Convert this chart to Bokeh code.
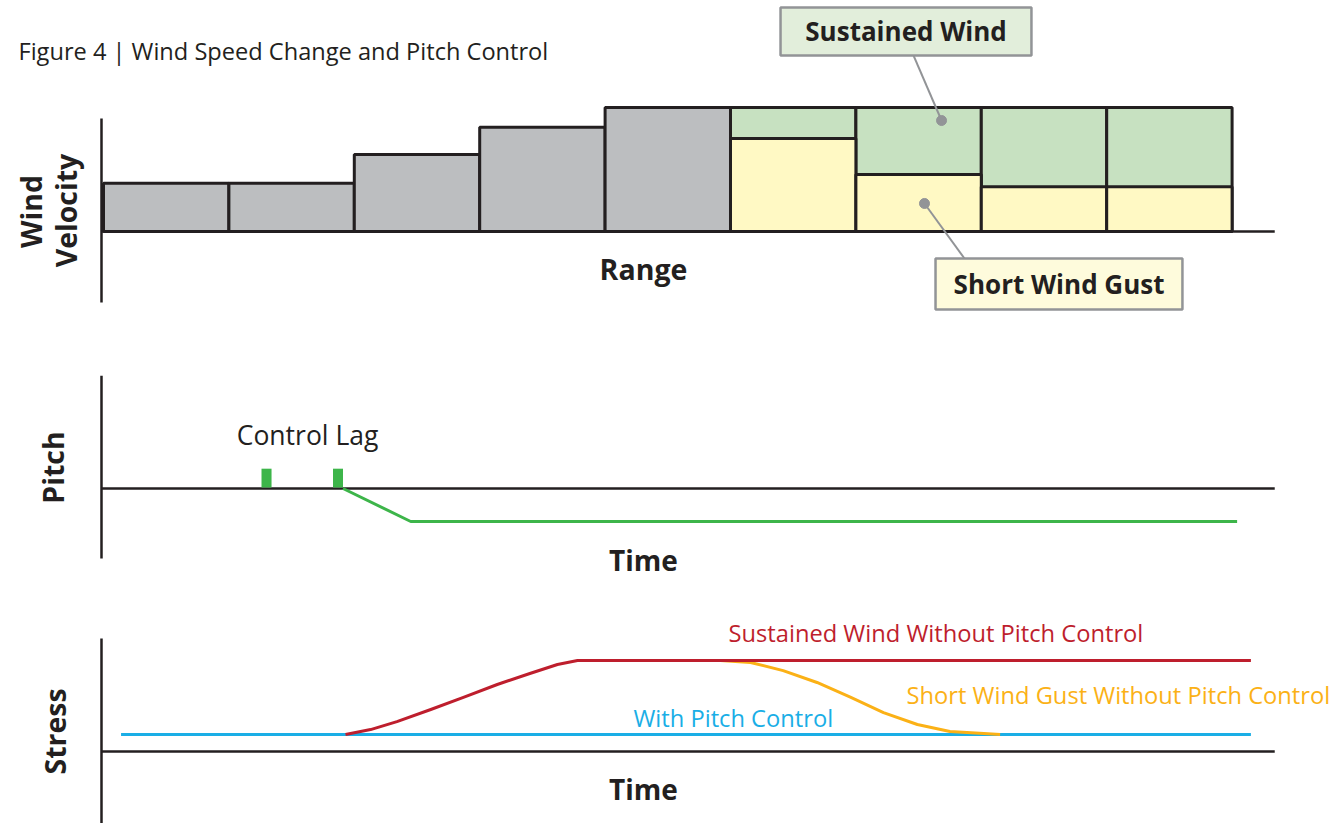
from bokeh.plotting import figure
from bokeh.models import Range1d, Label
from bokeh.embed import file_html
from bokeh.resources import INLINE
import math

# ---------------- data ----------------
# Wind velocity per range step (bars 1..9)
steps = [0, 1, 2, 3, 4, 5, 6, 7, 8]
ramp_velocity = [3.9, 3.9, 6.2, 8.4, 10.0]          # grey bars (steps 0-4)
sustained_velocity = [10.0, 10.0, 10.0, 10.0]       # green (steps 5-8)
gust_velocity = [7.5, 4.6, 3.6, 3.6]                # yellow (steps 5-8)

# Pitch vs time
lag_marks_t = [1.30, 1.87]
pitch_t = [1.91, 2.45, 9.04]
pitch_v = [0.0, -1.0, -1.0]

# Stress vs time
with_pc_t = [0.14, 9.15]
with_pc_v = [1.0, 1.0]
sustained_t = [1.93, 2.13, 2.34, 2.61, 2.87, 3.14, 3.40, 3.62, 3.78, 9.15]
sustained_v = [1.00, 1.29, 1.76, 2.47, 3.18, 3.94, 4.59, 5.12, 5.35, 5.35]
gust_t = [4.92, 5.16, 5.42, 5.69, 5.96, 6.22, 6.49, 6.75, 7.02, 7.15]
gust_v = [5.35, 5.24, 4.76, 4.06, 3.18, 2.29, 1.59, 1.18, 1.06, 1.00]

# axis extents (time axis end, y extents per panel)
axis_t = [-0.016, 9.34]
vel_axis = [-5.73, 9.11]
pitch_axis = [-2.12, 3.42]
stress_axis = [-4.3, 6.65]

# ---------------- styles ----------------
INK = "#231f20"
GREY = "#bcbec0"
GREEN_BAR = "#c7e1c1"
YELLOW_BAR = "#fff9c4"
BOX_GREEN = "#e2eedb"
BOX_YELLOW = "#fefbdc"
CALLOUT = "#929497"
PITCH_GREEN = "#3db54a"
RED = "#be1e2d"
ORANGE = "#fbb116"
BLUE = "#1aaee6"
FONT = "Open Sans"

p = figure(width=1343, height=823, output_backend="svg", toolbar_location=None,
           x_axis_type=None, y_axis_type=None, min_border=0,
           x_range=Range1d(-0.8214, 9.8884), y_range=Range1d(-47.742, 18.629))
p.outline_line_color = None
p.background_fill_color = "white"
p.border_fill_color = "white"
p.extra_y_ranges = {"pitch": Range1d(-10.152, 14.788),
                    "stress": Range1d(-4.235, 44.176)}

# ---------------- top panel: wind velocity ----------------
ramp_steps = steps[:len(ramp_velocity)]
p.quad(left=ramp_steps, right=[s + 1 for s in ramp_steps], bottom=0, top=ramp_velocity,
       fill_color=GREY, line_color=INK, line_width=3)
sus_steps = steps[len(ramp_velocity):]
p.quad(left=sus_steps, right=[s + 1 for s in sus_steps], bottom=0, top=sustained_velocity,
       fill_color=GREEN_BAR, line_color=INK, line_width=3)
p.quad(left=sus_steps, right=[s + 1 for s in sus_steps], bottom=0, top=gust_velocity,
       fill_color=YELLOW_BAR, line_color=INK, line_width=3)

p.segment(x0=[axis_t[0]], y0=[vel_axis[0]], x1=[axis_t[0]], y1=[vel_axis[1]], line_color=INK, line_width=2.5)
p.segment(x0=[axis_t[0]], y0=[0], x1=[axis_t[1]], y1=[0], line_color=INK, line_width=2.5)

# callouts
p.segment(x0=[6.46], y0=[14.19], x1=[6.683], y1=[8.95], line_color=CALLOUT, line_width=2)
p.segment(x0=[6.547], y0=[2.26], x1=[6.866], y1=[-2.18], line_color=CALLOUT, line_width=2)
p.scatter(x=[6.683, 6.547], y=[8.95, 2.26], size=10, marker="circle",
          fill_color=CALLOUT, line_color=CALLOUT)
p.quad(left=[5.399], right=[7.40], bottom=[14.19], top=[18.06],
       fill_color=BOX_GREEN, line_color=CALLOUT, line_width=2.5)
p.quad(left=[6.635], right=[8.604], bottom=[-6.29], top=[-2.18],
       fill_color=BOX_YELLOW, line_color=CALLOUT, line_width=2.5)

def lab(text, x, y, size, color=INK, bold=False, align="center", angle=0, yr="default"):
    p.add_layout(Label(x=x, y=y, text=text, text_font=FONT, text_font_size=f"{size}px",
                       text_font_style="bold" if bold else "normal", text_color=color,
                       text_align=align, text_baseline="middle", angle=angle,
                       y_range_name=yr))

lab("Figure 4 | Wind Speed Change and Pitch Control", -0.678, 14.52, 23.6, align="left")
lab("Sustained Wind", 6.40, 16.13, 26, bold=True)
lab("Short Wind Gust", 7.62, -4.27, 26, bold=True)
lab("Range", 4.306, -3.06, 28.5, bold=True)
lab("Wind", -0.58, 1.61, 28.5, bold=True, angle=math.pi / 2)
lab("Velocity", -0.30, 1.69, 28.5, bold=True, angle=math.pi / 2)

# ---------------- middle panel: pitch ----------------
p.segment(x0=[axis_t[0]], y0=[pitch_axis[0]], x1=[axis_t[0]], y1=[pitch_axis[1]],
          line_color=INK, line_width=2.5, y_range_name="pitch")
p.segment(x0=[axis_t[0]], y0=[0], x1=[axis_t[1]], y1=[0],
          line_color=INK, line_width=2.5, y_range_name="pitch")
p.quad(left=[t - 0.04 for t in lag_marks_t], right=[t + 0.04 for t in lag_marks_t],
       bottom=0.03, top=0.6, fill_color=PITCH_GREEN, line_color=None, y_range_name="pitch")
p.line(pitch_t, pitch_v, line_color=PITCH_GREEN, line_width=3, y_range_name="pitch")
lab("Control Lag", 1.627, 1.606, 26.5, yr="pitch")
lab("Pitch", -0.40, 0.636, 28.5, bold=True, angle=math.pi / 2, yr="pitch")
lab("Time", 4.306, -2.18, 28, bold=True, yr="pitch")

# ---------------- bottom panel: stress ----------------
p.segment(x0=[axis_t[0]], y0=[stress_axis[0]], x1=[axis_t[0]], y1=[stress_axis[1]],
          line_color=INK, line_width=2.5, y_range_name="stress")
p.segment(x0=[axis_t[0]], y0=[0], x1=[axis_t[1]], y1=[0],
          line_color=INK, line_width=2.5, y_range_name="stress")
p.line(with_pc_t, with_pc_v, line_color=BLUE, line_width=3, y_range_name="stress")
p.line(gust_t, gust_v, line_color=ORANGE, line_width=3, line_join="round", y_range_name="stress")
p.line(sustained_t, sustained_v, line_color=RED, line_width=3, line_join="round", y_range_name="stress")
lab("Sustained Wind Without Pitch Control", 4.984, 7.0, 23.7, color=RED, align="left", yr="stress")
lab("Short Wind Gust Without Pitch Control", 6.404, 3.35, 23.7, color=ORANGE, align="left", yr="stress")
lab("With Pitch Control", 4.226, 2.0, 23.7, color=BLUE, align="left", yr="stress")
lab("Stress", -0.39, 1.18, 28.5, bold=True, angle=math.pi / 2, yr="stress")
lab("Time", 4.306, -2.18, 28, bold=True, yr="stress")

open("out.html", "w").write(file_html(p, INLINE))
